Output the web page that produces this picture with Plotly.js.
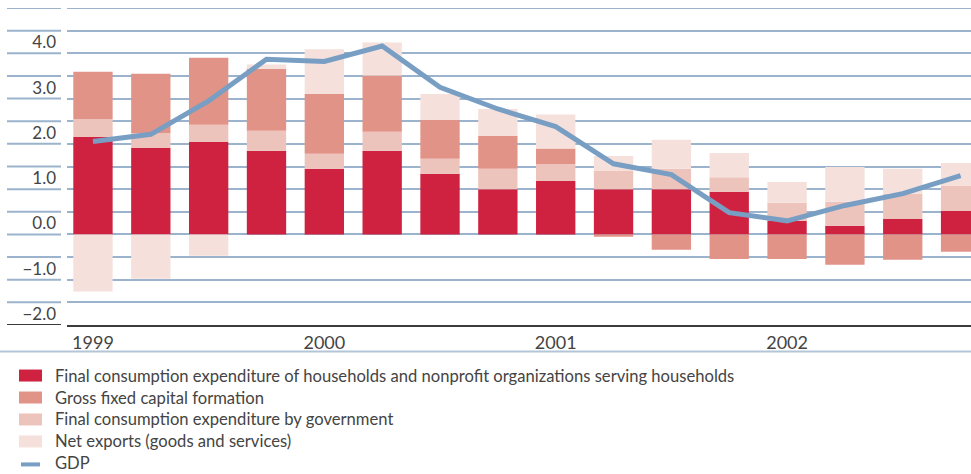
<!DOCTYPE html>
<html><head><meta charset="utf-8">
<script src="https://cdn.plot.ly/plotly-3.0.1.min.js"></script>
<style>html,body{margin:0;padding:0;background:#fff;overflow:hidden}</style>
</head><body><div id="chart" style="width:971px;height:474px"></div>
<script>
// ---- data (percentage points / percent, quarterly) ----
const quarters = ['1999Q1','1999Q2','1999Q3','1999Q4','2000Q1','2000Q2','2000Q3','2000Q4',
                  '2001Q1','2001Q2','2001Q3','2001Q4','2002Q1','2002Q2','2002Q3','2002Q4'];
const yearTickVals = ['1999Q1','2000Q1','2001Q1','2002Q1'];
const yearTickText = ['1999','2000','2001','2002'];
const household = [2.15,1.91,2.04,1.85,1.45,1.85,1.34,1.00,1.18,1.00,1.00,0.94,0.30,0.19,0.34,0.52];
const government = [0.40,0.33,0.38,0.44,0.33,0.42,0.33,0.45,0.37,0.40,0.45,0.32,0.40,0.53,0.56,0.55];
const capital = [1.04,1.31,1.48,1.37,1.32,1.24,0.86,0.73,0.35,-0.05,-0.34,-0.54,-0.54,-0.67,-0.56,-0.38];
const netExports = [-1.26,-0.98,-0.47,0.09,0.99,0.73,0.57,0.59,0.75,0.33,0.64,0.54,0.46,0.77,0.55,0.51];
const gdp = [2.05,2.21,2.95,3.87,3.82,4.16,3.25,2.77,2.38,1.56,1.32,0.48,0.30,0.64,0.90,1.30];
const yTickVals = [-2,-1,0,1,2,3,4];
const yTickText = ['\u22122.0','\u22121.0','0.0','1.0','2.0','3.0','4.0'];
const legendLabels = [
  'Final consumption expenditure of households and nonprofit organizations serving households',
  'Gross fixed capital formation',
  'Final consumption expenditure by government',
  'Net exports (goods and services)',
  'GDP'
];

// ---- style ----
const C_HH = '#cf2240', C_CAP = '#e29387', C_GOV = '#edc4bc', C_NX = '#f5e0dc', C_GDP = '#789ec3';
const GRID = '#9bb3cc', AXIS = '#3c3c3c', TXT = '#444444';
const FONT = 'Lato, "Open Sans", sans-serif';
const W = 971, H = 474, ML = 67, MR = 0, MT = 8, MB = 148.6;
const PW = W - ML - MR, PH = H - MT - MB;
const px2x = p => (p - ML) / PW;
const px2y = p => (H - MB - p) / PH;
const Y0 = -2, Y1 = 5;

const barW = 0.68;
const traces = [
  {type:'bar', x:quarters, y:household, name:legendLabels[0], marker:{color:C_HH, line:{width:0}}, width:barW, hoverinfo:'y'},
  {type:'bar', x:quarters, y:government, name:legendLabels[2], marker:{color:C_GOV, line:{width:0}}, width:barW, hoverinfo:'y'},
  {type:'bar', x:quarters, y:capital, name:legendLabels[1], marker:{color:C_CAP, line:{width:0}}, width:barW, hoverinfo:'y'},
  {type:'bar', x:quarters, y:netExports, name:legendLabels[3], marker:{color:C_NX, line:{width:0}}, width:barW, hoverinfo:'y'},
  {type:'scatter', mode:'lines', x:quarters, y:gdp, name:legendLabels[4], line:{color:C_GDP, width:5, shape:'linear'}, hoverinfo:'y'}
];

const shapes = [];
// left-hand gridline segments under the tick labels
for (let v = Y0; v <= Y1 + 1e-9; v += 0.5) {
  shapes.push({type:'line', xref:'paper', yref:'y', x0:px2x(7), x1:px2x(61), y0:v, y1:v,
    line:{color: v === Y0 ? AXIS : GRID, width:2}, layer:'below'});
}
// top gridline across plot
shapes.push({type:'line', xref:'paper', yref:'y', x0:0, x1:1, y0:Y1, y1:Y1, line:{color:GRID, width:2}, layer:'below'});
// separator above legend
shapes.push({type:'line', xref:'paper', yref:'paper', x0:px2x(0), x1:px2x(971), y0:px2y(352), y1:px2y(352), line:{color:'#b3c5d8', width:2}});

// manual legend
const legColors = [C_HH, C_CAP, C_GOV, C_NX];
const annotations = [];
legendLabels.forEach((lab, i) => {
  const cy = 376 + 22 * i;
  if (i < 4) {
    shapes.push({type:'rect', xref:'paper', yref:'paper', x0:px2x(19), x1:px2x(42), y0:px2y(cy - 6), y1:px2y(cy + 6),
      fillcolor:legColors[i], line:{width:0}});
  } else {
    shapes.push({type:'line', xref:'paper', yref:'paper', x0:px2x(21), x1:px2x(40), y0:px2y(cy + 1), y1:px2y(cy + 1),
      line:{color:C_GDP, width:4}});
  }
  annotations.push({xref:'paper', yref:'paper', x:px2x(54), y:px2y(cy), xanchor:'left', yanchor:'middle',
    text:lab, showarrow:false, borderpad:0, font:{family:FONT, size:16.6, color:TXT}});
});

const layout = {
  width:W, height:H, margin:{l:ML, r:MR, t:MT, b:MB, pad:0},
  paper_bgcolor:'#fff', plot_bgcolor:'#fff',
  barmode:'relative', bargap:0.32, showlegend:false,
  font:{family:FONT, color:TXT},
  xaxis:{type:'category', range:[-0.449, 15.18], tickvals:yearTickVals, ticktext:yearTickText,
    showgrid:false, zeroline:false, showline:true, linecolor:AXIS, linewidth:2, ticks:'',
    tickfont:{family:FONT, size:18, color:TXT}, fixedrange:true},
  yaxis:{range:[Y0, Y1], tickvals:yTickVals, ticktext:yTickText, showgrid:true, gridcolor:GRID, gridwidth:2,
    zeroline:false, showline:false, ticks:'', ticklabelshift:-11, ticklabelstandoff:10,
    tickfont:{family:FONT, size:17, color:TXT},
    minor:{tick0:0, dtick:0.5, showgrid:true, gridcolor:GRID, gridwidth:2, ticks:''}, fixedrange:true},
  shapes:shapes, annotations:annotations
};

Plotly.newPlot('chart', traces, layout, {displayModeBar:false, staticPlot:true});
</script>
</body></html>
